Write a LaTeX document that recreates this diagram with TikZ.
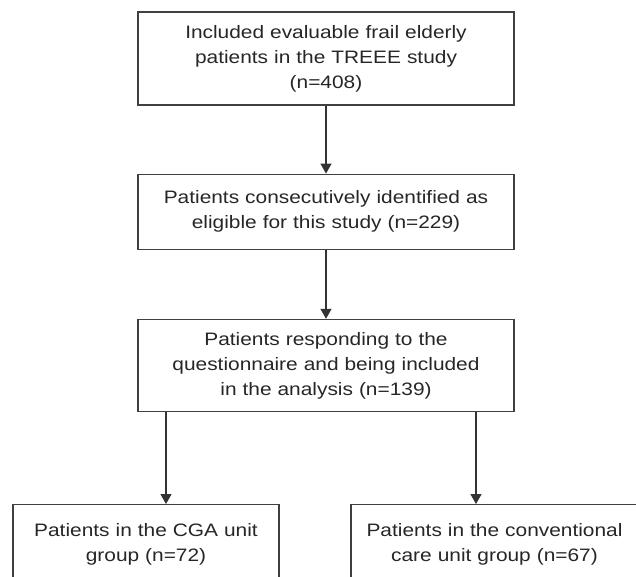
\documentclass[tikz,border=0pt]{standalone}
\usepackage{fontspec}
\setmainfont{Liberation Sans}[FakeStretch=1.16]
\usetikzlibrary{arrows.meta,positioning}

\begin{document}
\begin{tikzpicture}[x=1pt,y=-1pt,node distance=68pt,
  every node/.style={font=\fontsize{18}{25}\selectfont,text=black!85},
  box/.style={draw=black!75,line width=1.2pt,align=center,text width=#1,inner sep=0pt,minimum width=#1},
  arr/.style={-{Triangle[length=10pt,width=11pt]},draw=black!80,line width=1.2pt}]
\clip (0,0) rectangle (636,576);
\node[box=376pt,minimum height=93pt](incl) at (326,58.5){Included evaluable frail elderly\\patients in the TREEE study\\(n=408)};
\node[box=376pt,minimum height=75pt,below=of incl](elig){Patients consecutively identified as\\eligible for this study (n=229)};
\node[box=376pt,minimum height=92pt,below=69pt of elig](resp){Patients responding to the\\questionnaire and being included\\in the analysis (n=139)};
\node[box=266pt,minimum height=80pt,anchor=north](cga) at (146,504){Patients in the CGA unit\\group (n=72)};
\node[box=287pt,minimum height=80pt,anchor=north](conv) at (494.5,504){Patients in the conventional\\care unit group (n=67)};
\draw[arr](incl)--(elig);
\draw[arr](elig)--(resp);
\draw[arr]([xshift=-160pt]resp.south)--([xshift=-160pt]resp.south |- cga.north);
\draw[arr]([xshift=150pt]resp.south)--([xshift=150pt]resp.south |- conv.north);
\end{tikzpicture}
\end{document}
